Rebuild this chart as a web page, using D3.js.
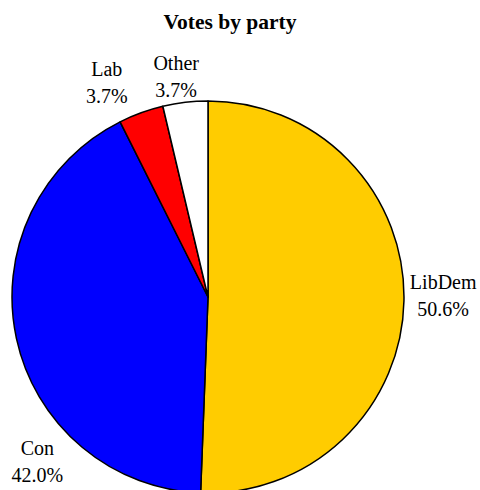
<!DOCTYPE html>
<html><head><meta charset="utf-8">
<script src="https://cdn.jsdelivr.net/npm/d3@7"></script>
<style>body{margin:0;background:#fff}svg{display:block}</style>
</head><body>
<script>
const parties = ["LibDem", "Con", "Lab", "Other"];
const shares = [50.6, 42.0, 3.7, 3.7];
const colors = ["#FFCC00", "#0000FF", "#FF0000", "#FFFFFF"];
const title = "Votes by party";

const W = 480, H = 490, cx = 208, cy = 297, R = 196;
// label placement tweaks (degrees offset from slice middle, radius factor)
const labelTweak = {LibDem: [-1, 1.2], Con: [-32, 1.215], Lab: [-5.4, 1.205], Other: [-1.6, 1.13]};

const svg = d3.select("body").append("svg").attr("width", W).attr("height", H);
svg.append("text").attr("x", 230).attr("y", 29).attr("text-anchor", "middle")
  .attr("font-family", "Liberation Serif, Times New Roman, serif").attr("font-weight", "bold")
  .attr("font-size", 21.5).text(title);

const data = parties.map((p, i) => ({party: p, value: shares[i], color: colors[i]}));
const pie = d3.pie().value(d => d.value).sort(null);
const arcs = pie(data);
const arc = d3.arc().innerRadius(0).outerRadius(R);
const g = svg.append("g").attr("transform", `translate(${cx},${cy})`);
g.selectAll("path").data(arcs).join("path")
  .attr("d", arc).attr("fill", d => d.data.color)
  .attr("stroke", "#000").attr("stroke-width", 1.5).attr("stroke-linejoin", "round");

const lbl = g.selectAll("text").data(arcs).join("text")
  .attr("text-anchor", "middle")
  .attr("font-family", "Liberation Serif, Times New Roman, serif").attr("font-size", 20)
  .attr("transform", d => {
    const t = labelTweak[d.data.party];
    const a = (d.startAngle + d.endAngle) / 2 + t[0] * Math.PI / 180;
    const r = R * t[1];
    return `translate(${r * Math.sin(a)},${-r * Math.cos(a)})`;
  });
lbl.append("tspan").attr("x", 0).attr("y", -8).text(d => d.data.party);
lbl.append("tspan").attr("x", 0).attr("y", 19).text(d => d.data.value.toFixed(1) + "%");
</script>
</body></html>
